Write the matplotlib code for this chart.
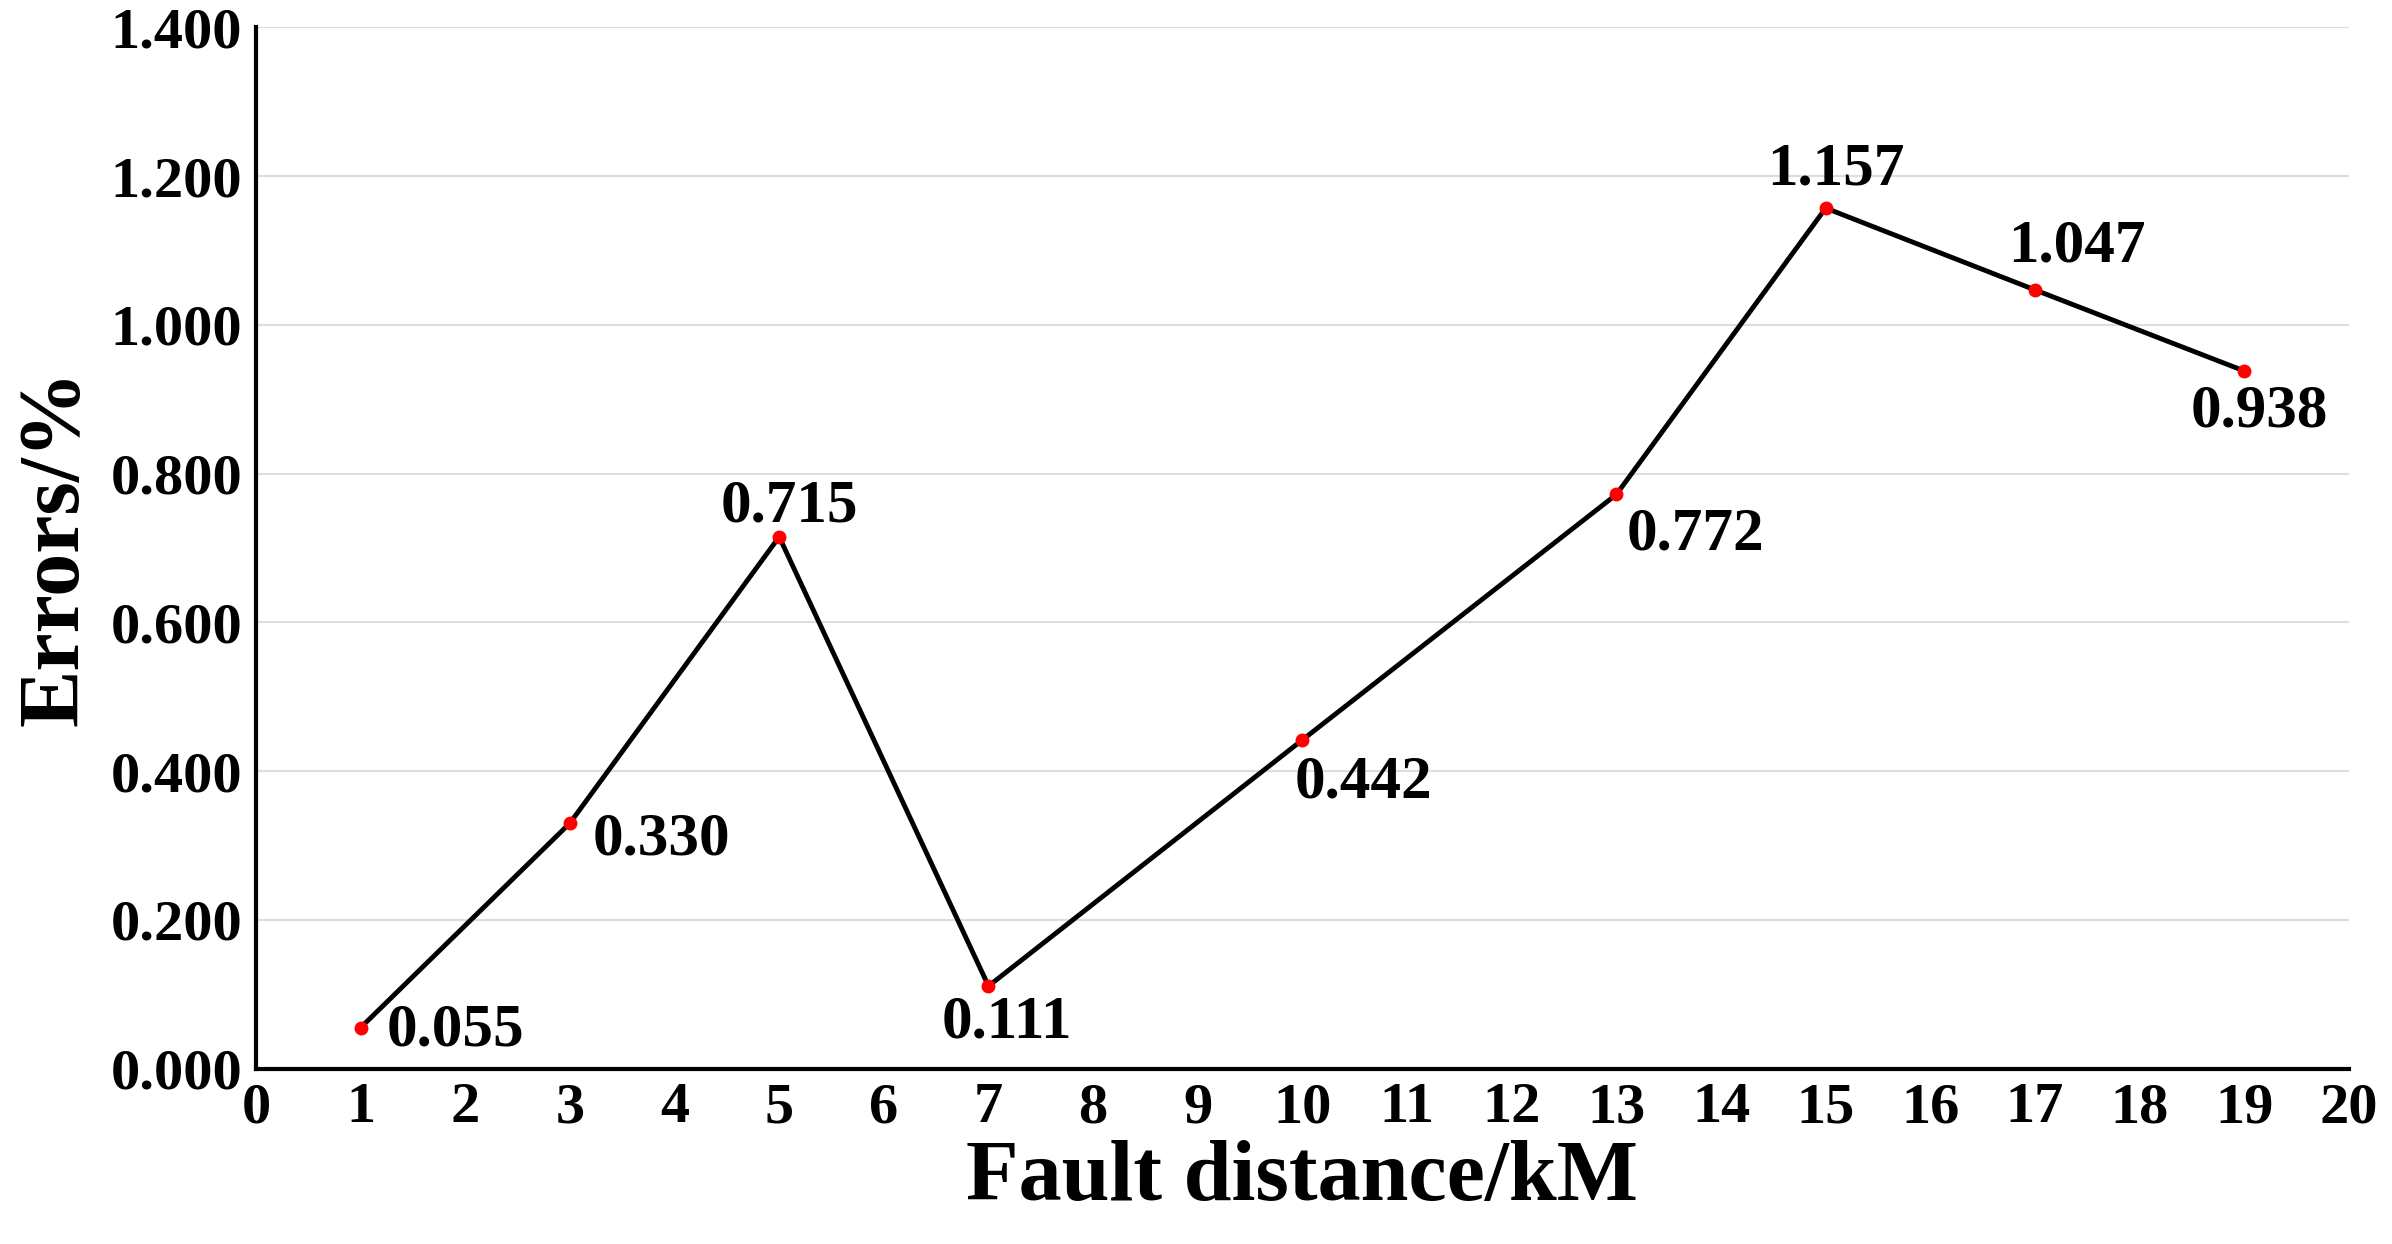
import matplotlib
matplotlib.use("Agg")
import matplotlib.pyplot as plt

distance = [1, 3, 5, 7, 10, 13, 15, 17, 19]
errors = [0.055, 0.330, 0.715, 0.111, 0.442, 0.772, 1.157, 1.047, 0.938]
labels = ["0.055", "0.330", "0.715", "0.111", "0.442", "0.772", "1.157", "1.047", "0.938"]
# label offsets in points (dx, dy)
offsets = [(68, -2), (66, -12), (7, 22), (13, -26), (44, -31), (57, -29), (7, 28), (30, 31), (11, -29)]

plt.rcParams['font.family'] = ['Liberation Serif', 'DejaVu Serif']
plt.rcParams['font.weight'] = 'bold'

fig = plt.figure(figsize=(23.92, 12.44), dpi=100)
ax = fig.add_axes([0.107, 0.141, 0.875, 0.837])
ax.plot(distance, errors, color='black', lw=3.5, zorder=2)
ax.plot(distance, errors, 'o', color='red', ms=9, zorder=3)
for x, y, t, (dx, dy) in zip(distance, errors, labels, offsets):
    ax.annotate(t, (x, y), xytext=(dx, dy), textcoords='offset points',
                ha='center', va='center', fontsize=44, fontweight='bold')
ax.set_xlim(0, 20)
ax.set_ylim(0, 1.4)
ax.set_xticks(range(0, 21))
ax.set_yticks([i * 0.2 for i in range(8)])
ax.set_yticklabels([f"{i*0.2:.3f}" for i in range(8)])
ax.tick_params(labelsize=42, length=0, pad=10)
for l in ax.get_xticklabels() + ax.get_yticklabels():
    l.set_fontweight('bold')
ax.grid(axis='y', color='#dddddd', lw=1.5)
ax.set_axisbelow(True)
for s in ['top', 'right']:
    ax.spines[s].set_visible(False)
for s in ['left', 'bottom']:
    ax.spines[s].set_linewidth(3)
ax.set_xlabel("Fault distance/kM", fontsize=62, fontweight='bold', labelpad=4)
ax.set_ylabel("Errors/%", fontsize=62, fontweight='bold', labelpad=10)
fig.savefig("out.png", dpi=100)
